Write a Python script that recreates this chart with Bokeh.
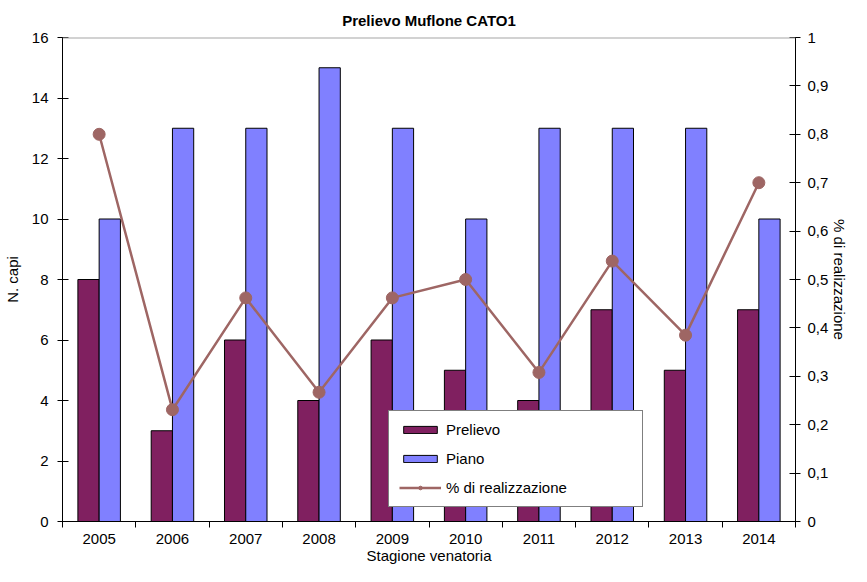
from bokeh.plotting import figure
from bokeh.models import (ColumnDataSource, Range1d, LinearAxis, FixedTicker,
                          CustomJSTickFormatter, Span, Legend, LegendItem)
from bokeh.embed import file_html
from bokeh.resources import INLINE

title = "Prelievo Muflone CATO1"
x_title = "Stagione venatoria"
y_title = "N. capi"
y2_title = "% di realizzazione"
years = ["2005", "2006", "2007", "2008", "2009", "2010", "2011", "2012", "2013", "2014"]
prelievo = [8, 3, 6, 4, 6, 5, 4, 7, 5, 7]
piano = [10, 13, 13, 15, 13, 10, 13, 13, 13, 10]
realizzazione = [0.8, 0.231, 0.462, 0.267, 0.462, 0.5, 0.308, 0.538, 0.385, 0.7]
left_ticks = [0, 2, 4, 6, 8, 10, 12, 14, 16]
right_ticks = [0, 0.1, 0.2, 0.3, 0.4, 0.5, 0.6, 0.7, 0.8, 0.9, 1]

FONT = "Liberation Sans"
C_PREL = "#802060"
C_PIANO = "#8080FF"
C_LINE = "#9E6664"

n = len(years)
xc = [i + 0.5 for i in range(n)]
src = ColumnDataSource(dict(
    xp=[x - 0.145 for x in xc],
    xq=[x + 0.145 for x in xc],
    xc=xc,
    prelievo=prelievo,
    piano=piano,
    real=realizzazione,
))

p = figure(width=851, height=566, output_backend="svg", toolbar_location=None,
           x_range=Range1d(0, n), y_range=Range1d(0, 16))
p.outline_line_color = None
p.xgrid.visible = False
p.ygrid.visible = False
p.background_fill_color = "white"
p.border_fill_color = "white"

p.title.text = title
p.title.align = "center"
p.title.text_font = FONT
p.title.text_font_size = "15px"
p.title.text_font_style = "bold"
p.title.text_color = "black"
p.title.standoff = 18

p.extra_y_ranges = {"pct": Range1d(0, 1)}

r1 = p.vbar(x="xp", top="prelievo", width=0.29, source=src, fill_color=C_PREL,
            line_color="black", line_width=1)
r2 = p.vbar(x="xq", top="piano", width=0.29, source=src, fill_color=C_PIANO,
            line_color="black", line_width=1)
rl = p.line(x="xc", y="real", source=src, y_range_name="pct", line_color=C_LINE, line_width=2.5)
rs = p.scatter(x="xc", y="real", source=src, y_range_name="pct", size=12,
               fill_color=C_LINE, line_color=C_LINE)

p.add_layout(Span(location=16, dimension="width", line_color="#A6A6A6", line_width=2))

def style_axis(ax):
    ax.axis_line_color = "black"
    ax.axis_line_width = 1
    ax.major_tick_line_color = "black"
    ax.minor_tick_line_color = "black"
    ax.major_label_text_font = FONT
    ax.major_label_text_font_size = "15px"
    ax.major_label_text_color = "black"
    ax.axis_label_text_font = FONT
    ax.axis_label_text_font_size = "15px"
    ax.axis_label_text_font_style = "normal"
    ax.axis_label_text_color = "black"

# x axis
xa = p.xaxis[0]
style_axis(xa)
xa.ticker = FixedTicker(ticks=xc, minor_ticks=list(range(n + 1)))
xa.formatter = CustomJSTickFormatter(args=dict(years=years),
                                     code="return years[Math.floor(tick)];")
xa.major_tick_in = 0
xa.major_tick_out = 0
xa.minor_tick_in = 0
xa.minor_tick_out = 6
xa.major_label_standoff = 6
xa.axis_label = x_title
xa.axis_label_standoff = 0

# left axis
ya = p.yaxis[0]
style_axis(ya)
ya.ticker = FixedTicker(ticks=left_ticks)
ya.major_tick_in = 6
ya.major_tick_out = 5
ya.minor_tick_in = 0
ya.minor_tick_out = 0
ya.major_label_standoff = 9
ya.axis_label = y_title
ya.axis_label_standoff = 8

# right axis
ra = LinearAxis(y_range_name="pct")
style_axis(ra)
ra.ticker = FixedTicker(ticks=right_ticks)
ra.formatter = CustomJSTickFormatter(
    code="var s = (Math.round(tick*10)/10).toString(); return s.replace('.', ',');")
ra.major_tick_in = 6
ra.major_tick_out = 5
ra.minor_tick_in = 0
ra.minor_tick_out = 0
ra.major_label_standoff = 7
ra.axis_label = y2_title
ra.axis_label_standoff = 0
p.add_layout(ra, "right")

legend = Legend(items=[
    LegendItem(label="Prelievo", renderers=[r1]),
    LegendItem(label="Piano", renderers=[r2]),
    LegendItem(label="% di realizzazione", renderers=[rl, rs]),
], location=(326, 14))
legend.border_line_color = "black"
legend.border_line_width = 1
legend.background_fill_color = "white"
legend.background_fill_alpha = 1
legend.label_text_font = FONT
legend.label_text_font_size = "15px"
legend.label_text_color = "black"
legend.glyph_width = 42
legend.glyph_height = 9
legend.label_height = 15
legend.label_width = 186
legend.label_standoff = 5
legend.spacing = 12
legend.padding = 10
legend.margin = 0
p.add_layout(legend, "center")

open("out.html", "w").write(file_html(p, INLINE))
